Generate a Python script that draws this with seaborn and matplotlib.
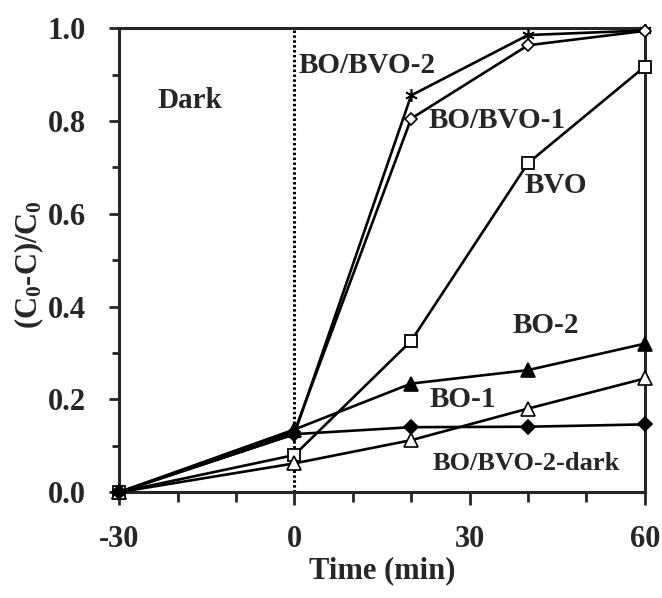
import numpy as np
import pandas as pd
import matplotlib
matplotlib.use("Agg")
import matplotlib.pyplot as plt
import seaborn as sns
from matplotlib.ticker import MultipleLocator

# time points (min)
time = [-30, 0, 20, 40, 60]

bo_bvo_2 = [0.0, 0.125, 0.855, 0.985, 0.995]
bo_bvo_1 = [0.0, 0.13, 0.805, 0.963, 0.994]
bvo = [0.0, 0.08, 0.326, 0.709, 0.917]
bo_2 = [0.0, 0.135, 0.234, 0.263, 0.32]
bo_1 = [0.0, 0.062, 0.112, 0.18, 0.245]
bo_bvo_2_dark = [0.0, 0.125, 0.14, 0.141, 0.146]

series_names = ["BO/BVO-2", "BO/BVO-1", "BVO", "BO-2", "BO-1", "BO/BVO-2-dark"]
series_vals = [bo_bvo_2, bo_bvo_1, bvo, bo_2, bo_1, bo_bvo_2_dark]

rows = []
for name, vals in zip(series_names, series_vals):
    for t, v in zip(time, vals):
        rows.append({"series": name, "time": t, "ratio": v})
df = pd.DataFrame(rows)

sns.set_style("ticks")
plt.rcParams["font.family"] = ["Liberation Serif", "DejaVu Serif"]
plt.rcParams["font.weight"] = "bold"
plt.rcParams["axes.unicode_minus"] = False
plt.rcParams["mathtext.fontset"] = "custom"
plt.rcParams["mathtext.rm"] = "Liberation Serif:bold"
plt.rcParams["mathtext.bf"] = "Liberation Serif:bold"
plt.rcParams["mathtext.it"] = "Liberation Serif:bold"

fig = plt.figure(figsize=(6.62, 5.98), dpi=100)
ax = fig.add_axes([0.18, 0.177, 0.794, 0.776])

marker_style = {
    "BO/BVO-2": dict(marker=(6, 2, 0), markersize=9, markerfacecolor="black", markeredgewidth=1.2),
    "BO/BVO-1": dict(marker="D", markersize=6, markerfacecolor="white", markeredgewidth=1.2),
    "BVO": dict(marker="s", markersize=9, markerfacecolor="white", markeredgewidth=1.3),
    "BO-2": dict(marker="^", markersize=10, markerfacecolor="black", markeredgewidth=1.2),
    "BO-1": dict(marker="^", markersize=10, markerfacecolor="white", markeredgewidth=1.2),
    "BO/BVO-2-dark": dict(marker="D", markersize=7, markerfacecolor="black", markeredgewidth=1.2),
}

for name in series_names:
    sub = df[df["series"] == name]
    sns.lineplot(data=sub, x="time", y="ratio", ax=ax, color="black",
                 linewidth=1.9, markeredgecolor="black", legend=False,
                 clip_on=False, zorder=3, **marker_style[name])

ax.axvline(0, color="black", linestyle=(0, (0.8, 0.8)), linewidth=2.2, zorder=1)

ax.set_xlim(-30, 60)
ax.set_ylim(0, 1.0)
ax.set_xticks([-30, 0, 30, 60])
ax.xaxis.set_minor_locator(MultipleLocator(10))
ax.set_yticks([0, 0.2, 0.4, 0.6, 0.8, 1.0])
ax.yaxis.set_minor_locator(MultipleLocator(0.1))
ax.set_yticklabels(["0.0", "0.2", "0.4", "0.6", "0.8", "1.0"])

for s in ax.spines.values():
    s.set_linewidth(2.2)
    s.set_visible(True)

ax.tick_params(axis="both", which="major", direction="out", width=2, labelsize=22)
ax.tick_params(axis="x", which="major", length=9, pad=15)
ax.tick_params(axis="x", which="minor", direction="out", length=7, width=2)
ax.tick_params(axis="y", which="major", length=7, pad=17)
ax.tick_params(axis="y", which="minor", direction="out", length=5, width=2)

ax.set_xlabel("Time (min)", fontsize=22, fontweight="bold", labelpad=1)
ax.set_ylabel(r"(C$_{0}$-C)/C$_{0}$", fontsize=22, fontweight="bold")
ax.yaxis.set_label_coords(-0.14, 0.49)

lbl = dict(fontsize=21, fontweight="bold", va="center", ha="left")
ax.text(-23.5, 0.845, "Dark", **lbl)
ax.text(0.8, 0.92, "BO/BVO-2", **lbl)
ax.text(23.0, 0.80, "BO/BVO-1", **lbl)
ax.text(39.5, 0.66, "BVO", **lbl)
ax.text(37.4, 0.36, "BO-2", **lbl)
ax.text(23.2, 0.20, "BO-1", **lbl)
ax.text(23.6, 0.062, "BO/BVO-2-dark", fontsize=19, fontweight="bold", va="center", ha="left")

fig.savefig("out.png", dpi=100)
